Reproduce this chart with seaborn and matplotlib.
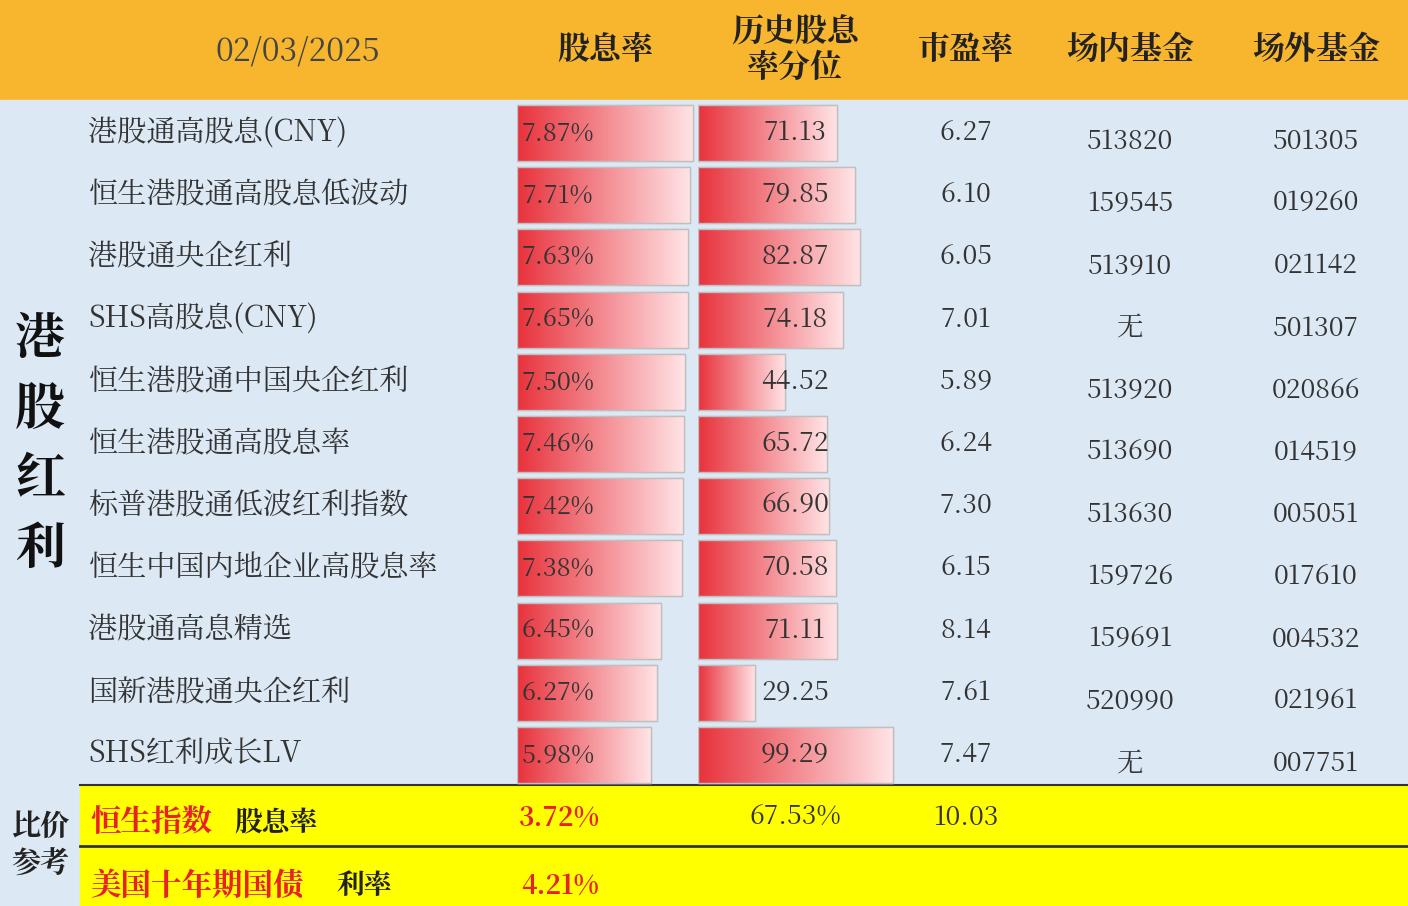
import matplotlib
matplotlib.use("Agg")
import matplotlib.pyplot as plt
from matplotlib import font_manager
import seaborn as sns
import numpy as np
import pandas as pd
from matplotlib.patches import Rectangle

cjk = [f.name for f in font_manager.fontManager.ttflist if "CJK" in f.name]
pref = [n for n in cjk if "SC" in n] or cjk
if not pref:
    import glob
    for path in glob.glob("/usr/share/fonts/**/*CJK*", recursive=True):
        try:
            font_manager.fontManager.addfont(path)
        except Exception:
            pass
    cjk = [f.name for f in font_manager.fontManager.ttflist if "CJK" in f.name]
    pref = [n for n in cjk if "SC" in n] or cjk
plt.rcParams["font.family"] = "sans-serif"
plt.rcParams["font.sans-serif"] = (pref[:1] if pref else []) + ["Noto Sans CJK SC", "DejaVu Sans"]

date_label = "02/03/2025"
headers = ["股息率", "历史股息\n率分位", "市盈率", "场内基金", "场外基金"]
names = ["港股通高股息(CNY)", "恒生港股通高股息低波动", "港股通央企红利", "SHS高股息(CNY)",
         "恒生港股通中国央企红利", "恒生港股通高股息率", "标普港股通低波红利指数",
         "恒生中国内地企业高股息率", "港股通高息精选", "国新港股通央企红利", "SHS红利成长LV"]
dividend = [7.87, 7.71, 7.63, 7.65, 7.50, 7.46, 7.42, 7.38, 6.45, 6.27, 5.98]
percentile = [71.13, 79.85, 82.87, 74.18, 44.52, 65.72, 66.90, 70.58, 71.11, 29.25, 99.29]
pe = [6.27, 6.10, 6.05, 7.01, 5.89, 6.24, 7.30, 6.15, 8.14, 7.61, 7.47]
fund_in = ["513820", "159545", "513910", "无", "513920", "513690", "513630", "159726", "159691", "520990", "无"]
fund_out = ["501305", "019260", "021142", "501307", "020866", "014519", "005051", "017610", "004532", "021961", "007751"]
ref_div = ["3.72%", "4.21%"]
ref_pct = "67.53%"
ref_pe = "10.03"

W, H = 1408, 906
fig = plt.figure(figsize=(W/100, H/100), dpi=100)
ax = fig.add_axes([0, 0, 1, 1])
ax.set_xlim(0, W); ax.set_ylim(H, 0); ax.axis("off")

ax.add_patch(Rectangle((0, 0), W, 100, color="#F8B62F"))
ax.add_patch(Rectangle((0, 100), W, 686, color="#DCE8F4"))
ax.add_patch(Rectangle((0, 786), 80, 120, color="#DCE8F4"))
ax.add_patch(Rectangle((80, 786), W-80, 59, color="#FFFF00"))
ax.add_patch(Rectangle((80, 848), W-80, 58, color="#FFFF00"))
ax.plot([80, W], [785, 785], color="#333333", lw=1.5)
ax.plot([80, W], [846, 846], color="#333333", lw=2)

ax.text(298, 52, date_label, ha="center", va="center", fontsize=23, color="#444444")
for x, h in zip([605, 795, 966, 1130, 1316], headers):
    ax.text(x, 50, h, ha="center", va="center", fontsize=23, fontweight="bold",
            color="#222222", linespacing=1.0)

for i, ch in enumerate("港股红利"):
    ax.text(40, 340 + i*70, ch, ha="center", va="center", fontsize=36, fontweight="bold", color="#111111")

row0, step = 133, 62.2
y0, y1 = row0 - step/2, row0 + step*10.5
grad = np.linspace(0, 1, 256).reshape(1, -1)
cmap = matplotlib.colors.LinearSegmentedColormap.from_list("r", ["#E8323C", "#FFE4E6"])

def bar_axes(xpix, wpix, unit, values):
    bax = fig.add_axes([xpix/W, 1 - y1/H, wpix/W, (y1-y0)/H])
    df = pd.DataFrame({"n": names, "v": values})
    sns.barplot(data=df, x="v", y="n", orient="h", ax=bax, width=0.9, color="#E8323C",
                edgecolor="#C8C8C8", linewidth=1)
    bax.set_xlim(0, wpix/unit); bax.set_ylim(len(names)-0.5, -0.5)
    bax.axis("off")
    for p in bax.patches:
        x, y, w, h = p.get_x(), p.get_y(), p.get_width(), p.get_height()
        im = bax.imshow(grad, cmap=cmap, extent=[x, x+w, y+h, y], aspect="auto", zorder=3)
        im.set_clip_path(p)
        bax.add_patch(Rectangle((x, y), w, h, fill=False, ec="#BFBFBF", lw=1, zorder=4))
    bax.set_ylim(len(names)-0.5, -0.5)

bar_axes(517, 220, 22.4, dividend)
bar_axes(698, 210, 1.96, percentile)

txt = fig.add_axes([0, 0, 1, 1]); txt.set_xlim(0, W); txt.set_ylim(H, 0); txt.axis("off")
for i in range(len(names)):
    y = row0 + i*step
    txt.text(88, y, names[i], ha="left", va="center", fontsize=21, color="#333333")
    txt.text(558, y, f"{dividend[i]:.2f}%", ha="center", va="center", fontsize=18, color="#333333")
    txt.text(795, y, f"{percentile[i]:.2f}", ha="center", va="center", fontsize=19, color="#333333")
    txt.text(966, y, f"{pe[i]:.2f}", ha="center", va="center", fontsize=19, color="#333333")
    txt.text(1130, y+9, fund_in[i], ha="center", va="center", fontsize=19, color="#333333")
    txt.text(1316, y+9, fund_out[i], ha="center", va="center", fontsize=19, color="#333333")

txt.text(40, 845, "比价\n参考", ha="center", va="center", fontsize=21, fontweight="bold", color="#222222", linespacing=1.3)
txt.text(90, 822, "恒生指数", ha="left", va="center", fontsize=22, fontweight="bold", color="#E8202A")
txt.text(234, 824, "股息率", ha="left", va="center", fontsize=20, fontweight="bold", color="#222222")
txt.text(560, 818, ref_div[0], ha="center", va="center", fontsize=19, fontweight="bold", color="#E8202A")
txt.text(795, 818, ref_pct, ha="center", va="center", fontsize=19, color="#333333")
txt.text(966, 818, ref_pe, ha="center", va="center", fontsize=19, color="#333333")
txt.text(90, 886, "美国十年期国债", ha="left", va="center", fontsize=22, fontweight="bold", color="#E8202A")
txt.text(336, 886, "利率", ha="left", va="center", fontsize=20, fontweight="bold", color="#222222")
txt.text(560, 886, ref_div[1], ha="center", va="center", fontsize=19, fontweight="bold", color="#E8202A")

fig.savefig("out.png", dpi=100)
